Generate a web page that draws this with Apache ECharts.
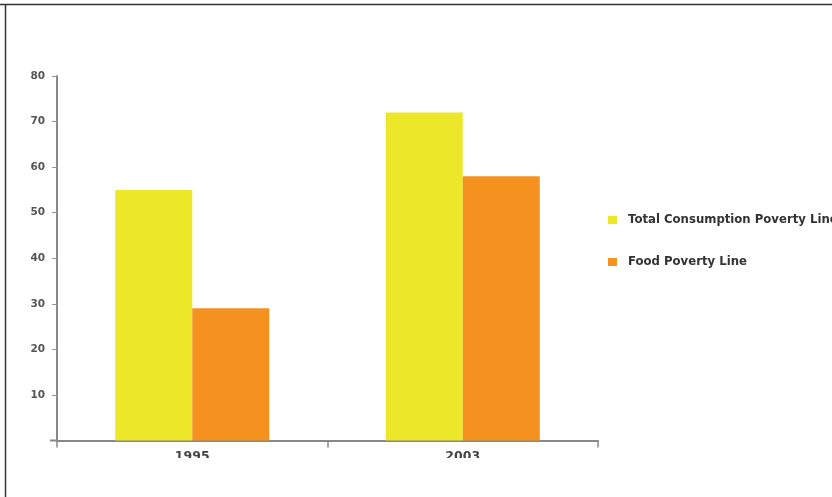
<!DOCTYPE html>
<html><head><meta charset="utf-8">
<script src="https://cdn.jsdelivr.net/npm/echarts@6/dist/echarts.min.js"></script>
<style>html,body{margin:0;padding:0;background:#fff}#c{width:832px;height:497px}</style>
</head><body><div id="c"></div>
<script>
const categories = ['1995', '2003'];
const seriesNames = ['Total Consumption Poverty Line', 'Food Poverty Line'];
const totalConsumption = [55, 72];
const foodPoverty = [29, 58];
const colors = ['#EDE72A', '#F5921F'];

const chart = echarts.init(document.getElementById('c'));
const font = 'DejaVu Sans';
chart.setOption({
  animation: false,
  backgroundColor: '#fff',
  grid: { left: 57, right: 234, top: 76, bottom: 56.5, containLabel: false },
  legend: {
    orient: 'vertical', left: 603, top: 209, itemGap: 30,
    itemWidth: 9, itemHeight: 8, icon: 'rect',
    textStyle: { fontFamily: font, fontWeight: 'bold', fontSize: 11.7, color: '#333', padding: [0, 0, 0, 6] },
    data: seriesNames
  },
  xAxis: {
    type: 'category', data: categories,
    axisLine: { lineStyle: { color: '#888', width: 2 } },
    axisTick: { show: true, length: 7, lineStyle: { color: '#888', width: 1.5 } },
    axisLabel: { fontFamily: font, fontWeight: 'bold', fontSize: 12.5, color: '#444', margin: 10 }
  },
  yAxis: {
    type: 'value', min: 0, max: 80, interval: 10,
    axisLine: { show: true, lineStyle: { color: '#888', width: 2 } },
    axisTick: { show: true, length: 5, lineStyle: { color: '#999' } },
    splitLine: { show: false },
    axisLabel: { fontFamily: font, fontWeight: 'bold', fontSize: 10.5, color: '#555', margin: 12,
      formatter: v => v === 0 ? '' : String(v) }
  },
  series: [
    { name: seriesNames[0], type: 'bar', data: totalConsumption, barWidth: 77, barGap: '0%',
      itemStyle: { color: colors[0] } },
    { name: seriesNames[1], type: 'bar', data: foodPoverty, barWidth: 77, barGap: '0%',
      itemStyle: { color: colors[1] } }
  ],
  graphic: [
    { type: 'rect', z: 100, shape: { x: 7, y: 458, width: 825, height: 39 }, style: { fill: '#fff' } },
    { type: 'line', z: 101, shape: { x1: 0, y1: 4.5, x2: 832, y2: 4.5 }, style: { stroke: '#333', lineWidth: 1.5 } },
    { type: 'line', z: 101, shape: { x1: 5.5, y1: 4, x2: 5.5, y2: 497 }, style: { stroke: '#333', lineWidth: 1.5 } },
    { type: 'line', z: 5, shape: { x1: 50, y1: 440.5, x2: 57, y2: 440.5 }, style: { stroke: '#888', lineWidth: 2 } }
  ]
});
</script></body></html>
